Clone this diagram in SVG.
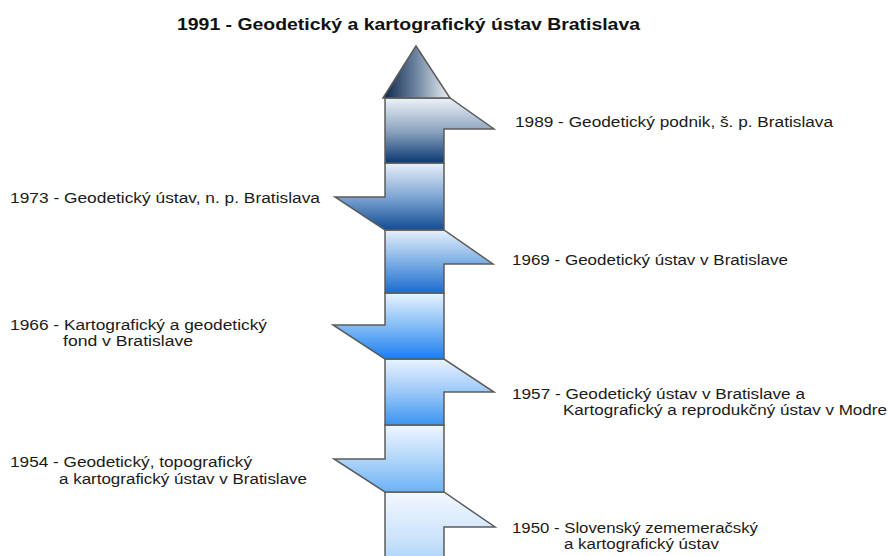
<svg xmlns="http://www.w3.org/2000/svg" width="890" height="556" viewBox="0 0 890 556">
<style>
.seg{stroke:#5c5c5c;stroke-width:1.5;stroke-linejoin:miter}
.lbl{font-family:"Liberation Sans",Arial,sans-serif;font-size:15.5px;fill:#1a1a1a}
.ttl{font-family:"Liberation Sans",Arial,sans-serif;font-size:17px;font-weight:bold;fill:#111}
</style>
<defs>
<linearGradient id="gTri" x1="0" y1="0" x2="1" y2="0"><stop offset="0" stop-color="#0c2648"/><stop offset="0.5" stop-color="#6f86a2"/><stop offset="1" stop-color="#eef2f6"/></linearGradient>
<linearGradient id="g1" x1="0" y1="0" x2="0" y2="1"><stop offset="0" stop-color="#eef2f7"/><stop offset="0.5" stop-color="#8ea6c2"/><stop offset="1" stop-color="#0a3870"/></linearGradient>
<linearGradient id="g2" x1="0" y1="0" x2="0" y2="1"><stop offset="0" stop-color="#e8f0f9"/><stop offset="0.5" stop-color="#7fa6d4"/><stop offset="1" stop-color="#134c92"/></linearGradient>
<linearGradient id="g3" x1="0" y1="0" x2="0" y2="1"><stop offset="0" stop-color="#e6f0fb"/><stop offset="0.5" stop-color="#80b0e6"/><stop offset="1" stop-color="#1a6ccd"/></linearGradient>
<linearGradient id="g4" x1="0" y1="0" x2="0" y2="1"><stop offset="0" stop-color="#e8f3ff"/><stop offset="0.5" stop-color="#84bcf6"/><stop offset="1" stop-color="#1a7ef0"/></linearGradient>
<linearGradient id="g5" x1="0" y1="0" x2="0" y2="1"><stop offset="0" stop-color="#eaf4ff"/><stop offset="0.5" stop-color="#9ac8f8"/><stop offset="1" stop-color="#3a94f2"/></linearGradient>
<linearGradient id="g6" x1="0" y1="0" x2="0" y2="1"><stop offset="0" stop-color="#eef6ff"/><stop offset="0.5" stop-color="#b2d6fa"/><stop offset="1" stop-color="#6cb2f6"/></linearGradient>
<linearGradient id="g7" x1="0" y1="0" x2="0" y2="1"><stop offset="0" stop-color="#f3f8ff"/><stop offset="0.6" stop-color="#cbe3fb"/><stop offset="1" stop-color="#a2cdf6"/></linearGradient>
</defs>
<rect width="890" height="556" fill="#ffffff"/>
<g id="connectors"/>
<g id="n1950">
<polygon class="seg" fill="url(#g7)" points="385,492 444,492 495,527 444,527 444,570 385,570"/>
<text class="lbl" x="512" y="533" textLength="246" lengthAdjust="spacingAndGlyphs">1950 - Slovenský zememeračský</text>
<text class="lbl" x="564" y="549" textLength="155" lengthAdjust="spacingAndGlyphs">a kartografický ústav</text>
</g>
<g id="n1954">
<polygon class="seg" fill="url(#g6)" points="385,425 444,425 444,492 385,492 334,459 385,459"/>
<text class="lbl" x="10" y="467" textLength="242" lengthAdjust="spacingAndGlyphs">1954 - Geodetický, topografický</text>
<text class="lbl" x="59" y="484" textLength="248" lengthAdjust="spacingAndGlyphs">a kartografický ústav v Bratislave</text>
</g>
<g id="n1957">
<polygon class="seg" fill="url(#g5)" points="385,359 444,359 494,392 444,392 444,425 385,425"/>
<text class="lbl" x="512" y="399" textLength="293" lengthAdjust="spacingAndGlyphs">1957 - Geodetický ústav v Bratislave a</text>
<text class="lbl" x="563" y="415" textLength="324" lengthAdjust="spacingAndGlyphs">Kartografický a reprodukčný ústav v Modre</text>
</g>
<g id="n1966">
<polygon class="seg" fill="url(#g4)" points="385,293 444,293 444,359 385,359 333,325 385,325"/>
<text class="lbl" x="10" y="330" textLength="257" lengthAdjust="spacingAndGlyphs">1966 - Kartografický a geodetický</text>
<text class="lbl" x="63" y="346" textLength="130" lengthAdjust="spacingAndGlyphs">fond v Bratislave</text>
</g>
<g id="n1969">
<polygon class="seg" fill="url(#g3)" points="385,230 444,230 493,264 444,264 444,293 385,293"/>
<text class="lbl" x="512" y="265" textLength="276" lengthAdjust="spacingAndGlyphs">1969 - Geodetický ústav v Bratislave</text>
</g>
<g id="n1973">
<polygon class="seg" fill="url(#g2)" points="385,163 444,163 444,230 385,230 335,197 385,197"/>
<text class="lbl" x="10" y="203" textLength="310" lengthAdjust="spacingAndGlyphs">1973 - Geodetický ústav, n. p. Bratislava</text>
</g>
<g id="n1989">
<polygon class="seg" fill="url(#g1)" points="385,98 450,98 494,129 444,129 444,163 385,163"/>
<text class="lbl" x="515" y="127" textLength="318" lengthAdjust="spacingAndGlyphs">1989 - Geodetický podnik, š. p. Bratislava</text>
</g>
<g id="n1991">
<polygon class="seg" fill="url(#gTri)" points="383,98 416,46 450,98"/>
<text class="ttl" x="177" y="30" textLength="463" lengthAdjust="spacingAndGlyphs">1991 - Geodetický a kartografický ústav Bratislava</text>
</g>
</svg>
